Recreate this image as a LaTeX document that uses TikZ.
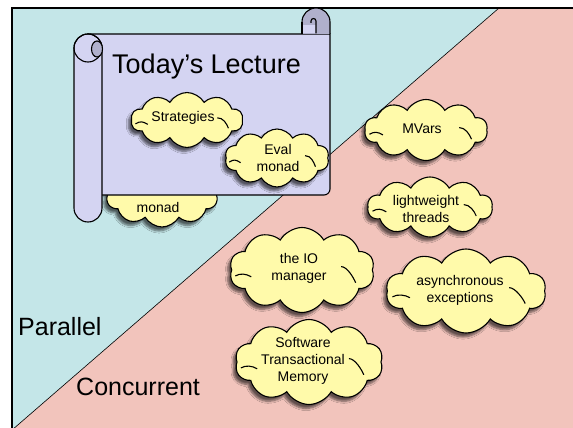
\documentclass[tikz,border=0pt]{standalone}
\usepackage{fontspec}
\setmainfont{Liberation Sans}
\usetikzlibrary{shapes.symbols,shadows.blur}
\definecolor{parbg}{RGB}{196,230,232}
\definecolor{conbg}{RGB}{242,196,188}
\definecolor{paper}{RGB}{212,212,242}
\definecolor{paperin}{RGB}{176,176,204}
\definecolor{puff}{RGB}{255,250,170}

% two short inner strokes that give each cloud its hand-drawn look
\newcommand\puffcurls[3]{%
  \draw[rim] ([shift={(-0.92*#2,0.14*#3)}]#1.center)
     .. controls +(5,-3) and +(-5,-3) .. ([shift={(-0.70*#2,0.16*#3)}]#1.center);
  \draw[rim] ([shift={(0.54*#2,-0.08*#3)}]#1.center)
     .. controls +(6,0) and +(-2,-5) .. ([shift={(0.74*#2,0.30*#3)}]#1.center);
}

\begin{document}
\begin{tikzpicture}[x=1pt,y=-1pt,
  rim/.style={draw=black, line width=1.1pt},
  thought/.style={cloud, cloud puffs=10, cloud puff arc=120, cloud ignores aspect,
    draw=black, line width=1.1pt, fill=puff, inner sep=0pt,
    blur shadow={shadow xshift=-3pt, shadow yshift=-4pt, shadow blur steps=6, shadow opacity=60}},
  puffword/.style={font=\fontsize{14}{17}\selectfont, align=center, inner sep=0pt},
  bigword/.style={font=\fontsize{25}{29}\selectfont, inner sep=0pt, anchor=base west},
]
\useasboundingbox (0,0) rectangle (573,428);

% the two regions
\fill[conbg] (12,8) rectangle (580,436);
\fill[parbg] (12,8) -- (499,8) -- (12,430) -- cycle;
\draw[line width=0.6pt] (499,8) -- (12,430);
\draw[line width=1.6pt] (12,440) -- (12,8) -- (585,8);

% cloud partly hidden behind the scroll
\node[thought, minimum width=112pt, minimum height=64pt] (parm) at (162,195) {};
\node[puffword] (parmt) at (158,207) {monad};

% the scroll
\filldraw[rim, fill=paper] (88,34) -- (330,34) -- (330,189) arc(0:90:6) -- (88,195) -- cycle;
\filldraw[rim, fill=paperin] (302,34) -- (302,22) arc(180:360:14) -- (330,34);
\fill[paper] (302,25) rectangle (316,33.4);
\draw[rim] (302,34) -- (302,22);
\draw[rim] (316,33.4) -- (316,21) arc(0:-180:2.5) -- (311,23);
\filldraw[rim, fill=paper] (74,48) arc(180:360:14) -- (102,208) arc(0:180:14) -- cycle;
\draw[rim] (88,48) circle[radius=14];
\filldraw[rim, fill=paperin] (97,49) ellipse[x radius=5.5, y radius=8];
\node[font=\fontsize{27}{32}\selectfont, anchor=base west, inner sep=0pt] (title) at (112,74) {Today’s Lecture};

% clouds on the scroll
\node[thought, minimum width=112pt, minimum height=55pt] (strat) at (187,120) {};
\puffcurls{strat}{56}{27.5}
\node[puffword] (stratt) at (183,118) {Strategies};
\node[thought, minimum width=104pt, minimum height=58pt] (evalm) at (277,158) {};
\puffcurls{evalm}{52}{29}
\node[puffword] (evalmt) at (278,158) {Eval\\monad};

% concurrent clouds
\node[thought, minimum width=123pt, minimum height=61pt] (mvars) at (426,130) {};
\puffcurls{mvars}{61.5}{30.5}
\node[puffword] (mvarst) at (422,129) {MVars};
\node[thought, minimum width=125pt, minimum height=60pt] (light) at (430,207) {};
\puffcurls{light}{62.5}{30}
\node[puffword] (lightt) at (426,208.5) {lightweight\\threads};
\node[thought, minimum width=145pt, minimum height=85pt] (iomgr) at (302,270) {};
\puffcurls{iomgr}{72.5}{42.5}
\node[puffword] (iomgrt) at (299,268.5) {the IO\\manager};
\node[thought, minimum width=160pt, minimum height=84pt] (async) at (466,291) {};
\puffcurls{async}{80}{42}
\node[puffword] (asynct) at (460,290.5) {asynchronous\\exceptions};
\node[thought, minimum width=148pt, minimum height=85pt] (stm) at (309,362) {};
\puffcurls{stm}{74}{42.5}
\node[puffword] (stmt) at (303,361) {Software\\Transactional\\Memory};

% region labels
\node[bigword] (par) at (18,335) {Parallel};
\node[bigword] (conc) at (76,395) {Concurrent};
\end{tikzpicture}
\end{document}
